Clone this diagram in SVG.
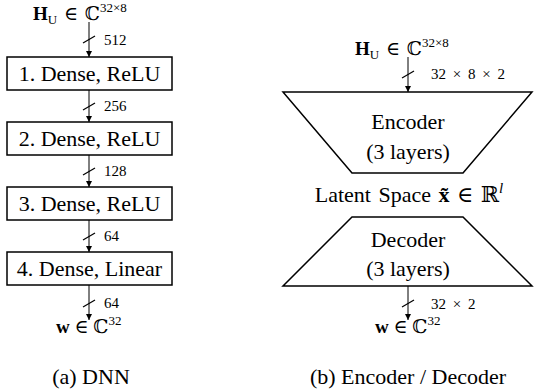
<svg xmlns="http://www.w3.org/2000/svg" width="534" height="390" viewBox="0 0 534 390">
<style>
text{font-family:"Liberation Serif","DejaVu Serif",serif;fill:#000}
.lbl{font-size:22px;text-anchor:middle}
.math{font-size:19px}
.sub{font-size:13px}
.dim{font-size:15px;word-spacing:3px}
.box{fill:#fff;stroke:#000;stroke-width:1.5}
.line{stroke:#000;stroke-width:1;fill:none}
.slash{stroke:#000;stroke-width:1.2}
.b{font-weight:bold}
.ds{font-family:"DejaVu Serif",serif}
</style>
<defs>
<marker id="ah" viewBox="0 0 10 10" refX="10" refY="5" markerWidth="8" markerHeight="6" orient="auto" markerUnits="userSpaceOnUse">
<path d="M0,0 L10,5 L0,10 z" fill="#000"/>
</marker>
</defs>
<g id="connectors">
<line class="line" x1="89" y1="22" x2="89" y2="57" marker-end="url(#ah)"/>
<line class="slash" x1="83" y1="43" x2="95" y2="36"/>
<line class="line" x1="89" y1="90" x2="89" y2="122" marker-end="url(#ah)"/>
<line class="slash" x1="83" y1="110" x2="95" y2="103"/>
<line class="line" x1="89" y1="155" x2="89" y2="187" marker-end="url(#ah)"/>
<line class="slash" x1="83" y1="175" x2="95" y2="168"/>
<line class="line" x1="89" y1="220" x2="89" y2="252" marker-end="url(#ah)"/>
<line class="slash" x1="83" y1="240" x2="95" y2="233"/>
<line class="line" x1="89" y1="285" x2="89" y2="320" marker-end="url(#ah)"/>
<line class="slash" x1="83" y1="307" x2="95" y2="300"/>
<line class="line" x1="408" y1="57" x2="408" y2="92" marker-end="url(#ah)"/>
<line class="slash" x1="402" y1="78" x2="414" y2="71"/>
<line class="line" x1="408" y1="286" x2="408" y2="320" marker-end="url(#ah)"/>
<line class="slash" x1="402" y1="307" x2="414" y2="300"/>
</g>
<g id="labels-left">
<text class="math" x="33" y="20"><tspan class="b">H</tspan><tspan class="sub" dy="4">U</tspan><tspan dy="-4" word-spacing="2px"> ∈ </tspan><tspan class="ds">ℂ</tspan><tspan class="sub" dy="-8">32×8</tspan></text>
<text class="dim" x="104" y="45">512</text>
<text class="dim" x="104" y="111">256</text>
<text class="dim" x="104" y="176">128</text>
<text class="dim" x="104" y="241">64</text>
<text class="dim" x="104" y="308">64</text>
<text class="math" x="56" y="333"><tspan class="b">w</tspan> ∈ <tspan class="ds">ℂ</tspan><tspan class="sub" dy="-8">32</tspan></text>
<text class="lbl" x="91" y="384">(a) DNN</text>
</g>
<g id="dense1"><rect class="box" x="7" y="57" width="165" height="33"/><text class="lbl" x="89.5" y="81">1. Dense, ReLU</text></g>
<g id="dense2"><rect class="box" x="7" y="122" width="165" height="33"/><text class="lbl" x="89.5" y="146">2. Dense, ReLU</text></g>
<g id="dense3"><rect class="box" x="7" y="187" width="165" height="33"/><text class="lbl" x="89.5" y="211">3. Dense, ReLU</text></g>
<g id="dense4"><rect class="box" x="7" y="252" width="165" height="33"/><text class="lbl" x="89.5" y="276">4. Dense, Linear</text></g>
<g id="encoder"><polygon class="box" points="283,92 532,92 463,173 352,173"/><text class="lbl" x="408" y="129">Encoder</text><text class="lbl" x="408" y="159">(3 layers)</text></g>
<g id="latent"><text class="lbl" x="409" y="202" font-size="23px" word-spacing="2px">Latent Space <tspan class="b">x̃</tspan> ∈ <tspan class="ds">ℝ</tspan><tspan font-size="15" font-style="italic" dy="-9">l</tspan></text></g>
<g id="decoder"><polygon class="box" points="352,217 463,217 532,286 283,286"/><text class="lbl" x="408" y="247">Decoder</text><text class="lbl" x="408" y="276">(3 layers)</text></g>
<g id="labels-right">
<text class="math" x="355" y="55"><tspan class="b">H</tspan><tspan class="sub" dy="4">U</tspan><tspan dy="-4" word-spacing="2px"> ∈ </tspan><tspan class="ds">ℂ</tspan><tspan class="sub" dy="-8">32×8</tspan></text>
<text class="dim" x="431" y="79">32 × 8 × 2</text>
<text class="dim" x="431" y="309">32 × 2</text>
<text class="math" x="375" y="333"><tspan class="b">w</tspan> ∈ <tspan class="ds">ℂ</tspan><tspan class="sub" dy="-8">32</tspan></text>
<text class="lbl" x="408" y="384">(b) Encoder / Decoder</text>
</g>
</svg>
